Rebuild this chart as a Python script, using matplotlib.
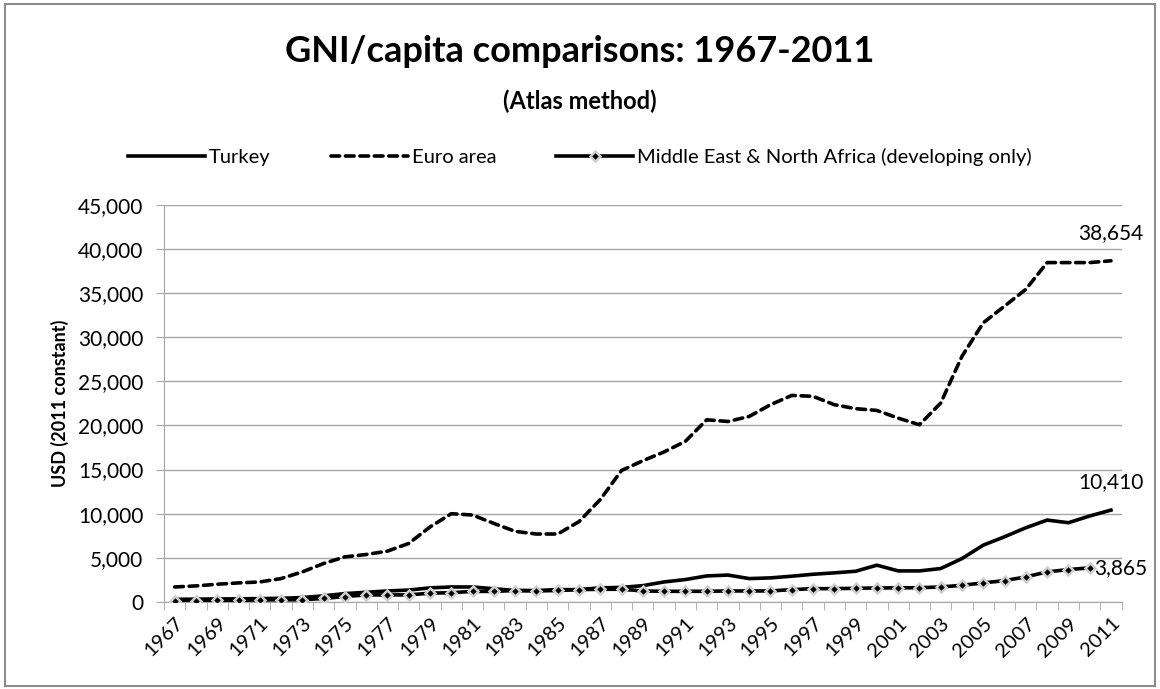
import matplotlib
matplotlib.use("Agg")
import matplotlib.pyplot as plt
from matplotlib.patches import Rectangle

plt.rcParams['font.family'] = ['Lato', 'DejaVu Sans']

years = list(range(1967, 2012))

# GNI per capita, Atlas method (USD)
turkey = [300, 320, 340, 360, 380, 420, 500, 700, 950, 1100, 1250, 1350,
          1600, 1700, 1700, 1500, 1300, 1250, 1300, 1400, 1600, 1650,
          1850, 2270, 2540, 2950, 3050, 2650, 2730, 2920, 3140, 3300,
          3480, 4170, 3520, 3520, 3790, 4920, 6440, 7390, 8410, 9280,
          8980, 9740, 10410]

euro = [1700, 1820, 2010, 2160, 2270, 2650, 3410, 4360, 5110, 5380, 5760,
        6630, 8500, 10000, 9850, 8900, 8000, 7700, 7700, 9100, 11600,
        14900, 16000, 17000, 18200, 20640, 20450, 21020, 22350, 23400,
        23300, 22350, 21900, 21700, 20830, 20080, 22540, 27840, 31630,
        33520, 35420, 38450, 38450, 38450, 38654]

# MENA series stops in 2010
mena = [150, 160, 170, 180, 230, 240, 250, 400, 620, 800, 800, 800, 1000,
        1050, 1200, 1200, 1300, 1300, 1400, 1400, 1440, 1440, 1250, 1210,
        1210, 1210, 1250, 1250, 1250, 1400, 1510, 1510, 1550, 1590, 1600,
        1620, 1700, 1890, 2160, 2420, 2840, 3410, 3670, 3865]

yticks = list(range(0, 45001, 5000))

x = list(range(len(years)))

fig = plt.figure(figsize=(11.6, 6.89), dpi=100)
ax = fig.add_axes([0.1414, 0.1263, 0.8255, 0.5765])

ax.plot(x, turkey, color="black", lw=2.6, solid_joinstyle="round",
        label="Turkey", zorder=3)
ax.plot(x, euro, color="black", lw=2.6, dashes=(2.4, 1.6),
        dash_capstyle="round", label="Euro area", zorder=3)
ax.plot(x[:len(mena)], mena, color="black", lw=2.6, marker="D", ms=5.5,
        mfc="black", mec="#cfcfcf", mew=1.8,
        label="Middle East & North Africa (developing only)", zorder=4)

ax.set_xlim(-0.5, len(years) - 0.5)
ax.set_ylim(0, 45000)
ax.set_yticks(yticks)
ax.set_yticklabels([f"{v:,}" for v in yticks])
ax.yaxis.grid(True, color="#a6a6a6", lw=1)
ax.set_axisbelow(True)

ax.set_xticks(x[::2])
ax.set_xticklabels([str(y) for y in years[::2]], rotation=45, ha="right",
                   rotation_mode="anchor")
ax.set_xticks([i - 0.5 for i in range(len(years) + 1)], minor=True)
ax.tick_params(axis="x", which="major", length=0, pad=9, labelsize=14.5)
ax.tick_params(axis="x", which="minor", length=6, color="#a6a6a6")
ax.tick_params(axis="y", length=6, color="#a6a6a6", labelsize=15, pad=9)

for side in ["top", "right"]:
    ax.spines[side].set_visible(False)
for side in ["left", "bottom"]:
    ax.spines[side].set_color("#a6a6a6")

ax.set_ylabel("USD (2011 constant)", fontsize=13, fontweight="bold",
              labelpad=6)

ax.annotate(f"{euro[-1]:,}", (x[-1], euro[-1]), xytext=(0, 13),
            textcoords="offset points", ha="center", va="bottom", fontsize=15)
ax.annotate(f"{turkey[-1]:,}", (x[-1], turkey[-1]), xytext=(0, 13),
            textcoords="offset points", ha="center", va="bottom", fontsize=15)
ax.annotate(f"{mena[-1]:,}", (len(mena) - 1, mena[-1]), xytext=(3, 0),
            textcoords="offset points", ha="left", va="center", fontsize=15)

fig.text(0.5, 0.925, "GNI/capita comparisons: 1967-2011", ha="center",
         va="center", fontsize=26, fontweight="bold")
fig.text(0.5, 0.853, "(Atlas method)", ha="center", va="center",
         fontsize=17, fontweight="bold")

fig.legend(loc="center", bbox_to_anchor=(0.5, 0.772), ncol=3, frameon=False,
           fontsize=14.5, handlelength=3.8, handletextpad=0.2,
           columnspacing=3.0)

fig.patches.append(Rectangle((0.004, 0.004), 0.992, 0.99, transform=fig.transFigure,
                             fill=False, edgecolor="#8c8c8c", lw=1.5))

fig.savefig("out.png", dpi=100)
